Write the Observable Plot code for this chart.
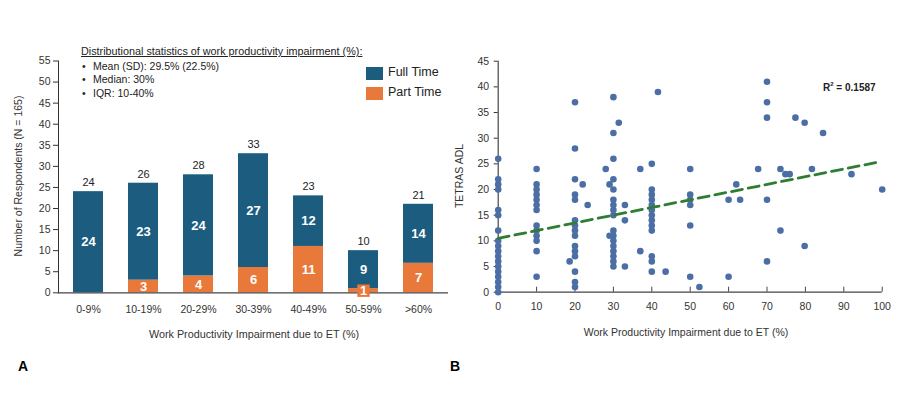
<!DOCTYPE html>
<html><head><meta charset="utf-8">
<script src="https://cdn.jsdelivr.net/npm/d3@7"></script>
<script src="https://cdn.jsdelivr.net/npm/@observablehq/plot@0.6"></script>
<style>
body{margin:0;background:#fff;font-family:"Liberation Sans",Arial,sans-serif;}
#wrap{position:relative;width:900px;height:409px;overflow:hidden;background:#fff;}
#wrap svg{position:absolute;top:0;}
.abs{position:absolute;white-space:nowrap;color:#333;line-height:1;}
.rot{transform:translate(-50%,-50%) rotate(-90deg);}
.ctr{transform:translate(-50%,-50%);}
.sw{position:absolute;width:17px;height:13px;}
</style></head><body><div id="wrap"></div>
<script>
// ---------- Panel A data ----------
const categories = ["0-9%","10-19%","20-29%","30-39%","40-49%","50-59%",">60%"];
const fullTime = [24,23,24,27,12,9,14];
const partTime = [0,3,4,6,11,1,7];
const yTicksA = [0,5,10,15,20,25,30,35,40,45,50,55];
const seriesNames = ["Full Time","Part Time"];

// ---------- Panel B data ----------
const wpai = [
  0,0,0,0,0,0,0,0,0,0,0,0,0,0,0,0,0,0,
  10,10,10,10,10,10,10,10,10,10,10,10,10,
  20,20,20,20,20,20,20,20,20,20,20,20,20,20,20, 18.6,22,23.3,
  30,30,30,30,30,30,30,30,30,30,30,30,30,30,30,30,30, 29,29,28,31.4,33,33,33,
  40,40,40,40,40,40,40,40,40,40,40,40,40, 37,37,41.6,43.6,
  50,50,50,50,50,50, 52.4,
  60,60,62,63,67.7,
  70,70,70,70,70,
  73.5,73.5,74.8,75.9,77.4,79.8,79.8,81.7,84.6,92,100
];
const tetras = [
  0,1,2,3,4,5,6,7,8,9,10,12,15,16,20,21,22,26,
  3,8,10,11,12,13,16,17,18,19,20,21,24,
  1,2,4,7,8,9,11,12,13,14,18,19,22,28,37, 6,21,17,
  5,6,7,8,9,10,11,12,15,16,17,18,20,22,26,31,38, 21,11,24,33,17,14,5,
  4,6,7,12,13,14,15,16,17,18,19,20,25, 8,24,39,4,
  3,13,17,18,19,24, 1,
  18,3,21,18,24,
  6,18,34,37,41,
  12,24,23,23,34,33,9,24,31,23,20
];
const xTicksB = [0,10,20,30,40,50,60,70,80,90,100];
const yTicksB = [0,5,10,15,20,25,30,35,40,45];
const trendIntercept = 10.5;
const trendSlope = 0.15;
const trendX = [0, 99];
const rSquared = "0.1587";

// ---------- colours ----------
const blue = "#1c5d7f", orange = "#e8793a", dotColor = "#4b6fa5", green = "#2e7d32";
const font = "'Liberation Sans', Arial, sans-serif";

// ---------- Panel A ----------
const rowsA = [];
categories.forEach((c,i)=>rowsA.push({cat:c, type:"Part Time", value:partTime[i]}));
categories.forEach((c,i)=>rowsA.push({cat:c, type:"Full Time", value:fullTime[i]}));
const stackRows = rowsA.filter(d=>d.value>0);
const totals = categories.map((c,i)=>({cat:c, total: fullTime[i]+partTime[i]}));

const plotA = Plot.plot({
  width:450, height:409,
  marginLeft:58, marginRight:2, marginTop:60.5, marginBottom:116.7,
  style:{fontFamily:font, fontSize:"10.5px", color:"#333", background:"transparent"},
  x:{domain:categories, paddingInner:0.46, paddingOuter:0.25, label:null, tickSize:0, tickPadding:13},
  y:{domain:[0,55], ticks:yTicksA, label:null, tickSize:5, tickPadding:3, line:true},
  color:{domain:seriesNames, range:[blue, orange]},
  marks:[
    Plot.barY(stackRows, {x:"cat", y:"value", z:"type", fill:"type"}),
    Plot.ruleY([0], {stroke:"#444", strokeWidth:1.3}),
    Plot.dot(stackRows.filter(d=>d.type==="Part Time" && d.value<2),
      {x:"cat", y:d=>d.value/2, symbol:"square", r:7, fill:orange}),
    Plot.text(stackRows, Plot.stackY({x:"cat", y:"value", z:"type",
      text:d=>String(d.value), fill:"white", fontWeight:"bold", fontSize:13})),
    Plot.text(totals, {x:"cat", y:"total", text:d=>String(d.total), dy:-9, fill:"#222", fontSize:11})
  ]
});
plotA.style.left = "0px";

// ---------- Panel B ----------
const points = wpai.map((x,i)=>({x, y:tetras[i]}));
const trend = trendX.map(x=>({x, y: trendIntercept + trendSlope*x}));
const innerH = 409 - 60.7 - 117.3;

const plotB = Plot.plot({
  width:450, height:409,
  marginLeft:47.7, marginRight:18.3, marginTop:60.7, marginBottom:117.3,
  style:{fontFamily:font, fontSize:"10.5px", color:"#333", background:"transparent"},
  x:{domain:[0,100], ticks:xTicksB, label:null, tickSize:0, tickPadding:10},
  y:{domain:[0,45], ticks:yTicksB, label:null, tickSize:4, tickPadding:5},
  marks:[
    Plot.ruleX(xTicksB, {stroke:"#444", insetTop:innerH-5}),
    Plot.ruleX([0], {stroke:"#444", strokeWidth:1.2}),
    Plot.ruleY([0], {stroke:"#444", strokeWidth:1.2}),
    Plot.dot(points, {x:"x", y:"y", r:3.3, fill:dotColor}),
    Plot.line(trend, {x:"x", y:"y", stroke:green, strokeWidth:2.8, strokeDasharray:"11,6"})
  ]
});
plotB.style.left = "450px";

const wrap = document.getElementById("wrap");
wrap.appendChild(plotA);
wrap.appendChild(plotB);

// ---------- annotations ----------
function add(html, css, cls="abs"){
  const d = document.createElement("div");
  d.className = cls; d.innerHTML = html; d.style.cssText = css; wrap.appendChild(d); return d;
}
add("Distributional statistics of work productivity impairment (%):",
  "left:81px;top:46px;font-size:10.8px;text-decoration:underline;color:#222;");
const stats = ["Mean (SD): 29.5% (22.5%)","Median: 30%","IQR: 10-40%"];
stats.forEach((s,i)=>{
  add("•", `left:82px;top:${61+i*13.4}px;font-size:10.5px;color:#222;`);
  add(s, `left:93px;top:${61+i*13.4}px;font-size:10.5px;color:#222;`);
});
// legend
seriesNames.forEach((n,i)=>{
  const sw = document.createElement("div");
  sw.className = "sw"; sw.style.left = "366px"; sw.style.top = (66.5+i*20)+"px";
  sw.style.background = i===0 ? blue : orange; wrap.appendChild(sw);
  add(n, `left:388px;top:${66+i*20}px;font-size:12.5px;color:#222;`);
});
// axis titles
add("Number of Respondents (N = 165)", "left:18px;top:176px;font-size:10.5px;", "abs rot");
add("Work Productivity Impairment due to ET (%)", "left:254px;top:334px;font-size:10.8px;", "abs ctr");
add("TETRAS ADL", "left:459px;top:176px;font-size:10.5px;", "abs rot");
add("Work Productivity Impairment due to ET (%)", "left:686px;top:332px;font-size:10.5px;", "abs ctr");
add(`R<sup style="font-size:6px;vertical-align:5px">2</sup> = ${rSquared}`,
  "left:823px;top:81px;font-size:10px;font-weight:bold;color:#222;");
add("A", "left:18px;top:359px;font-size:14px;font-weight:bold;color:#000;");
add("B", "left:450px;top:359px;font-size:14px;font-weight:bold;color:#000;");
</script>
</body></html>
